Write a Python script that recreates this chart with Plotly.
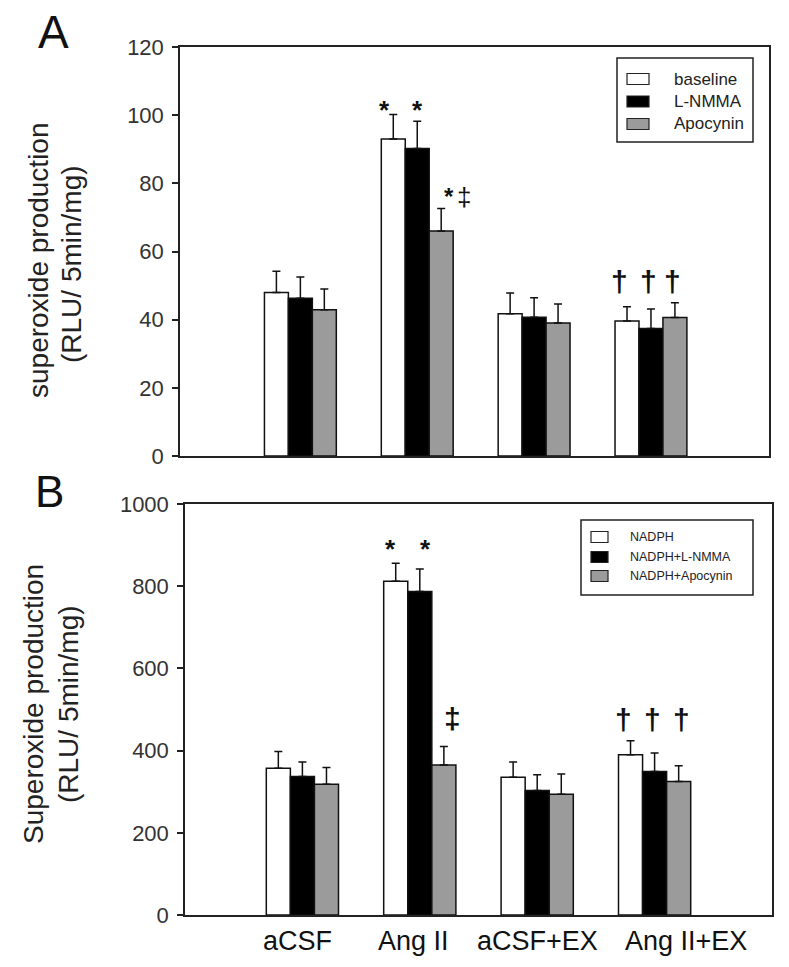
import plotly.graph_objects as go

W, H = 789, 967

categories = ["aCSF", "Ang II", "aCSF+EX", "Ang II+EX"]

# Panel A
a_names = ["baseline", "L-NMMA", "Apocynin"]
a_baseline = [48.0, 93.0, 41.7, 39.6]
a_lnmma = [46.3, 90.2, 40.7, 37.4]
a_apocynin = [42.9, 66.0, 39.0, 40.6]
a_baseline_err = [6.2, 7.2, 6.1, 4.2]
a_lnmma_err = [6.2, 8.0, 5.7, 5.7]
a_apocynin_err = [6.1, 6.6, 5.6, 4.4]

# Panel B
b_names = ["NADPH", "NADPH+L-NMMA", "NADPH+Apocynin"]
b_nadph = [357, 812, 335, 390]
b_lnmma = [337, 787, 303, 349]
b_apocynin = [318, 365, 294, 325]
b_nadph_err = [41, 44, 37, 34]
b_lnmma_err = [35, 55, 38, 45]
b_apocynin_err = [41, 45, 49, 38]

a_ticks = [0, 20, 40, 60, 80, 100, 120]
b_ticks = [0, 200, 400, 600, 800, 1000]

FILLS = ["white", "black", "#9b9b9b"]
FONT = "Liberation Sans, Arial, sans-serif"
BARGAP = 0.385
BARW = (1 - BARGAP) / 3


def px(x):
    return x / W


def py(y):
    return 1 - y / H


fig = go.Figure()

a_vals = [a_baseline, a_lnmma, a_apocynin]
a_errs = [a_baseline_err, a_lnmma_err, a_apocynin_err]
b_vals = [b_nadph, b_lnmma, b_apocynin]
b_errs = [b_nadph_err, b_lnmma_err, b_apocynin_err]

for vals, errs, xa, ya in [(a_vals, a_errs, "x", "y"), (b_vals, b_errs, "x2", "y2")]:
    for k in range(3):
        fig.add_trace(go.Bar(
            x=categories, y=vals[k], xaxis=xa, yaxis=ya,
            marker=dict(color=FILLS[k], line=dict(color="#111", width=1.5)),
            error_y=dict(type="data", symmetric=False, array=errs[k],
                         arrayminus=[0] * len(errs[k]), color="#111",
                         thickness=1.5, width=4),
            showlegend=False,
        ))

axis_common = dict(showline=True, mirror=True, linecolor="#222", linewidth=1.5,
                   showgrid=False, zeroline=False, automargin=False)

fig.update_layout(
    width=W, height=H,
    margin=dict(l=0, r=0, t=0, b=0),
    paper_bgcolor="white", plot_bgcolor="white",
    barmode="group", bargap=BARGAP, bargroupgap=0,
    font=dict(family=FONT, color="#222"),
    xaxis=dict(domain=[px(180), px(769)], anchor="y", type="category",
               range=[-1.03, 4.01], showticklabels=False, ticks="", **axis_common),
    yaxis=dict(domain=[py(456), py(47)], anchor="x", range=[0, 120],
               tickvals=a_ticks, ticks="outside", ticklen=6, tickwidth=1.5,
               tickcolor="#222", tickfont=dict(size=22, color="#333", family=FONT),
               ticklabelstandoff=4, **axis_common),
    xaxis2=dict(domain=[px(185), px(772)], anchor="y2", type="category",
                range=[-1.0, 4.0], ticks="", showticklabels=False, **axis_common),
    yaxis2=dict(domain=[py(915), py(504)], anchor="x2", range=[0, 1000],
                tickvals=b_ticks, ticks="outside", ticklen=6, tickwidth=1.5,
                tickcolor="#222", tickfont=dict(size=22, color="#333", family=FONT),
                ticklabelstandoff=4, **axis_common),
)

ann = []
shapes = []

# Category labels under panel B (positioned at category index, slight offsets like original)
label_shift = [-5, -6, 0, 31]
for i, cat in enumerate(categories):
    ann.append(dict(text=cat, x=i, y=0, xref="x2", yref="y2", showarrow=False,
                    font=dict(size=27, color="#111", family=FONT),
                    xanchor="center", yanchor="middle", xshift=label_shift[i], yshift=-26))

# Panel letters
ann.append(dict(text="A", x=px(53), y=py(32), xref="paper", yref="paper",
                showarrow=False, font=dict(size=46, color="#111", family=FONT),
                xanchor="center", yanchor="middle"))
ann.append(dict(text="B", x=px(49), y=py(491), xref="paper", yref="paper",
                showarrow=False, font=dict(size=44, color="#111", family=FONT),
                xanchor="center", yanchor="middle"))

# Axis titles
for text, x, y in [("superoxide production", 38, 260), ("(RLU/ 5min/mg)", 72, 264),
                   ("Superoxide production", 33, 704), ("(RLU/ 5min/mg)", 68, 704)]:
    ann.append(dict(text=text, x=px(x), y=py(y), xref="paper", yref="paper",
                    textangle=-90, showarrow=False,
                    font=dict(size=28, color="#222", family=FONT),
                    xanchor="center", yanchor="middle"))


def bar_x(cat_idx, k):
    return cat_idx + (k - 1) * BARW


def mark(text, xa, ya, cat_idx, k, yval, size, xshift=0, yshift=0):
    ann.append(dict(text=text, x=bar_x(cat_idx, k), y=yval, xref=xa, yref=ya,
                    showarrow=False, font=dict(size=size, color="#111", family=FONT),
                    xanchor="center", yanchor="middle", xshift=xshift, yshift=yshift))


STAR = "<b>*</b>"

# Panel A significance marks
angA = categories.index("Ang II")
exA = categories.index("Ang II+EX")
topA = max(a_vals[k][angA] + a_errs[k][angA] for k in range(2))
for k in range(2):
    mark(STAR, "x", "y", angA, k, topA, 26, xshift=(-9 if k == 0 else 0), yshift=4)
gtop = a_vals[2][angA] + a_errs[2][angA]
mark(STAR, "x", "y", angA, 2, gtop, 24, xshift=8, yshift=12)
mark("‡", "x", "y", angA, 2, gtop, 26, xshift=23, yshift=12)
dtop = max(a_vals[k][exA] + a_errs[k][exA] for k in range(3))
for k in range(3):
    mark("<b>†</b>", "x", "y", exA, k, dtop, 30, xshift=(-8, -2, -2)[k], yshift=21)

# Panel B significance marks
topB = max(b_vals[k][angA] + b_errs[k][angA] for k in range(2))
for k in range(2):
    mark(STAR, "x2", "y2", angA, k, topB, 26, xshift=(-5 if k == 0 else 6), yshift=14)
gtopB = b_vals[2][angA] + b_errs[2][angA]
mark("<b>‡</b>", "x2", "y2", angA, 2, gtopB, 30, xshift=9, yshift=28)
dtopB = max(b_vals[k][exA] + b_errs[k][exA] for k in range(3))
for k in range(3):
    mark("<b>†</b>", "x2", "y2", exA, k, dtopB, 30, xshift=(-7, -2, 3)[k], yshift=21)


# Legends (drawn manually)
def legend(names, box, sw_x, rows, sw_h, text_x, size):
    shapes.append(dict(type="rect", xref="paper", yref="paper",
                       x0=px(box[0]), x1=px(box[1]), y0=py(box[3]), y1=py(box[2]),
                       line=dict(color="#222", width=1.5), fillcolor="white"))
    for k, name in enumerate(names):
        cy = rows[k]
        shapes.append(dict(type="rect", xref="paper", yref="paper",
                           x0=px(sw_x[0]), x1=px(sw_x[1]),
                           y0=py(cy + sw_h / 2), y1=py(cy - sw_h / 2),
                           line=dict(color="#222", width=1.2), fillcolor=FILLS[k]))
        ann.append(dict(text=name, x=px(text_x), y=py(cy), xref="paper", yref="paper",
                        showarrow=False, font=dict(size=size, color="#222", family=FONT),
                        xanchor="left", yanchor="middle"))


legend(a_names, (617, 753, 58, 142), (627, 649), (79, 101.5, 124), 11, 672, 17)
legend(b_names, (581, 753, 520, 595), (591, 608), (537, 557, 576), 11, 628, 12.5)

fig.update_layout(annotations=ann, shapes=shapes)

fig.write_html("out.html", config={"displayModeBar": False},
               post_script="document.body.style.margin='0';document.body.style.padding='0';")
